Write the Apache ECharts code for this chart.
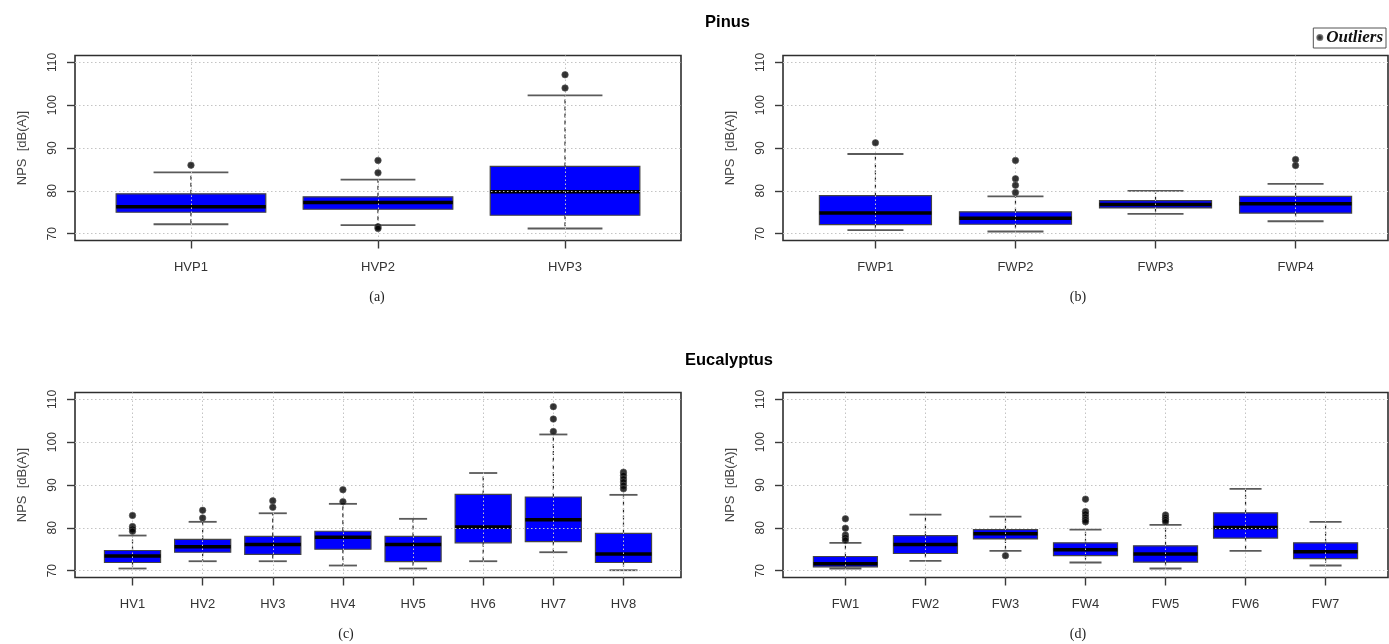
<!DOCTYPE html>
<html>
<head>
<meta charset="utf-8">
<script src="https://cdn.jsdelivr.net/npm/echarts@6/dist/echarts.min.js"></script>
<style>html,body{margin:0;padding:0;background:#fff}#c{width:1389px;height:644px}</style>
</head>
<body>
<div id="c"></div>
<script>
// ---- data: [lower whisker, Q1, median, Q3, upper whisker] ----
const pinusHVCats = ['HVP1', 'HVP2', 'HVP3'];
const pinusHVStats = [
  [72.2, 75.0, 76.3, 79.3, 84.3],
  [72.0, 75.7, 77.3, 78.6, 82.6],
  [71.2, 74.3, 79.8, 85.7, 102.3]
];
const pinusHVOutliers = [[86.0], [87.1, 84.2, 71.6, 71.2], [107.1, 104.0]];

const pinusFWCats = ['FWP1', 'FWP2', 'FWP3', 'FWP4'];
const pinusFWStats = [
  [70.8, 72.1, 74.8, 78.9, 88.6],
  [70.5, 72.2, 73.6, 75.1, 78.7],
  [74.6, 76.0, 76.8, 77.7, 80.0],
  [72.9, 74.8, 77.0, 78.7, 81.6]
];
const pinusFWOutliers = [[91.2], [87.1, 82.8, 81.3, 79.6], [], [87.3, 85.9]];

const eucHVCats = ['HV1', 'HV2', 'HV3', 'HV4', 'HV5', 'HV6', 'HV7', 'HV8'];
const eucHVStats = [
  [70.5, 71.9, 73.4, 74.7, 78.2],
  [72.2, 74.3, 75.6, 77.3, 81.4],
  [72.2, 73.8, 76.1, 78.0, 83.4],
  [71.2, 75.0, 77.8, 79.2, 85.6],
  [70.5, 72.1, 76.1, 78.0, 82.1],
  [72.2, 76.5, 80.2, 87.8, 92.8],
  [74.3, 76.8, 81.9, 87.2, 101.8],
  [70.1, 71.9, 73.9, 78.7, 87.7]
];
const eucHVOutliers = [
  [82.9, 80.3, 79.7, 79.2], [84.1, 82.3], [86.3, 84.8], [88.9, 86.1], [], [],
  [108.3, 105.4, 102.5], [93.0, 92.2, 91.4, 90.7, 89.9, 89.1]
];

const eucFWCats = ['FW1', 'FW2', 'FW3', 'FW4', 'FW5', 'FW6', 'FW7'];
const eucFWStats = [
  [70.5, 70.9, 71.6, 73.3, 76.5],
  [72.3, 74.0, 76.1, 78.2, 83.1],
  [74.6, 77.4, 78.6, 79.6, 82.6],
  [71.9, 73.5, 74.9, 76.5, 79.6],
  [70.5, 72.0, 73.9, 75.8, 80.7],
  [74.6, 77.6, 80.1, 83.5, 89.1],
  [71.2, 72.8, 74.4, 76.5, 81.4]
];
const eucFWOutliers = [
  [82.1, 79.9, 78.3, 77.7, 77.1], [], [73.5], [86.7, 83.8, 83.2, 82.5, 81.9, 81.4],
  [83.0, 82.4, 81.9, 81.4], [], []
];

const yTicks = [70, 80, 90, 100, 110];
const yLimits = [70, 110];
const yAxisName = 'NPS  [dB(A)]';

// ---- layout ----
const panels = [
  { cats: pinusHVCats, stats: pinusHVStats, out: pinusHVOutliers, left: 75, top: 55.5, width: 606 },
  { cats: pinusFWCats, stats: pinusFWStats, out: pinusFWOutliers, left: 783, top: 55.5, width: 605 },
  { cats: eucHVCats, stats: eucHVStats, out: eucHVOutliers, left: 75, top: 392.5, width: 606 },
  { cats: eucFWCats, stats: eucFWStats, out: eucFWOutliers, left: 783, top: 392.5, width: 605 }
];
const plotH = 185;
const SANS = 'Liberation Sans, Arial, sans-serif';
const SERIF = 'Liberation Serif, Times New Roman, serif';
const gridLine = { show: true, lineStyle: { color: '#c4c4c4', width: 1, type: [1.5, 2.5] } };

const yPad = (yLimits[1] - yLimits[0]) * 0.04;

const grids = [], xAxes = [], yAxes = [], series = [];

function renderBox(params, api) {
  const x = api.value(0);
  const lo = api.value(1), q1 = api.value(2), med = api.value(3), q3 = api.value(4), hi = api.value(5);
  const bw = 0.4, cw = 0.2;
  const bTL = api.coord([x - bw, q3]);
  const bBR = api.coord([x + bw, q1]);
  const cHiL = api.coord([x - cw, hi]), cHiR = api.coord([x + cw, hi]);
  const cLoL = api.coord([x - cw, lo]), cLoR = api.coord([x + cw, lo]);
  const mL = api.coord([x - bw, med]), mR = api.coord([x + bw, med]);
  const pQ3 = api.coord([x, q3]), pQ1 = api.coord([x, q1]);
  const pHi = api.coord([x, hi]), pLo = api.coord([x, lo]);
  const whisk = { stroke: '#222', lineWidth: 1.2, lineDash: [4, 3] };
  const cap = { stroke: '#5a5a5a', lineWidth: 1.8 };
  return {
    type: 'group',
    children: [
      { type: 'line', shape: { x1: pQ3[0], y1: pQ3[1], x2: pHi[0], y2: pHi[1] }, style: whisk },
      { type: 'line', shape: { x1: pQ1[0], y1: pQ1[1], x2: pLo[0], y2: pLo[1] }, style: whisk },
      { type: 'line', shape: { x1: cHiL[0], y1: cHiL[1], x2: cHiR[0], y2: cHiR[1] }, style: cap },
      { type: 'line', shape: { x1: cLoL[0], y1: cLoL[1], x2: cLoR[0], y2: cLoR[1] }, style: cap },
      { type: 'rect', shape: { x: bTL[0], y: bTL[1], width: bBR[0] - bTL[0], height: bBR[1] - bTL[1] },
        style: { fill: '#0000ff', stroke: '#444', lineWidth: 1.2 } },
      { type: 'line', shape: { x1: mL[0], y1: mL[1], x2: mR[0], y2: mR[1] }, style: { stroke: '#000', lineWidth: 3.5 } }
    ]
  };
}

panels.forEach((p, i) => {
  const n = p.cats.length;
  const xPad = n * 0.04;
  const catPos = p.cats.map((_, k) => k + 1);
  grids.push({ left: p.left, top: p.top, width: p.width, height: plotH, show: true,
    borderColor: '#2e2e2e', borderWidth: 1.6, backgroundColor: 'transparent' });
  xAxes.push({
    gridIndex: i, type: 'value', min: 0.5 - xPad, max: n + 0.5 + xPad, z: 3,
    axisLine: { show: false, onZero: false },
    axisTick: { show: true, length: 8, lineStyle: { color: '#3a3a3a', width: 1.4 }, customValues: catPos },
    axisLabel: { customValues: catPos, margin: 20, color: '#333', fontFamily: SANS, fontSize: 13,
      formatter: v => p.cats[Math.round(v) - 1] || '' },
    splitLine: gridLine
  });
  yAxes.push({
    gridIndex: i, type: 'value', min: yLimits[0] - yPad, max: yLimits[1] + yPad, z: 3,
    axisLine: { show: false, onZero: false },
    axisTick: { show: true, length: 8, lineStyle: { color: '#3a3a3a', width: 1.4 }, customValues: yTicks },
    axisLabel: { customValues: yTicks, rotate: 90, margin: 16, color: '#333', fontFamily: SANS, fontSize: 12 },
    splitLine: gridLine,
    name: yAxisName, nameLocation: 'middle', nameGap: 46,
    nameTextStyle: { color: '#444', fontFamily: SANS, fontSize: 13 }
  });
  series.push({
    type: 'custom', xAxisIndex: i, yAxisIndex: i, z: 2, clip: false,
    renderItem: renderBox,
    data: p.stats.map((s, k) => [k + 1, s[0], s[1], s[2], s[3], s[4]]),
    silent: true
  });
  const pts = [];
  p.out.forEach((arr, k) => arr.forEach(v => pts.push([k + 1, v])));
  series.push({
    type: 'scatter', name: 'Outliers', xAxisIndex: i, yAxisIndex: i, z: 4,
    symbol: 'circle', symbolSize: 6.5,
    itemStyle: { color: '#000', borderColor: '#555', borderWidth: 0.8 },
    data: pts, silent: true
  });
});

const texts = [
  { t: 'Pinus', x: 727.5, y: 22, font: 'bold 16.5px ' + SANS, c: '#000' },
  { t: 'Eucalyptus', x: 729, y: 360, font: 'bold 16.5px ' + SANS, c: '#000' },
  { t: '(a)', x: 377, y: 297, font: '14px ' + SERIF, c: '#222' },
  { t: '(b)', x: 1078, y: 297, font: '14px ' + SERIF, c: '#222' },
  { t: '(c)', x: 346, y: 634, font: '14px ' + SERIF, c: '#222' },
  { t: '(d)', x: 1078, y: 634, font: '14px ' + SERIF, c: '#222' }
];

const chart = echarts.init(document.getElementById('c'), null, { renderer: 'canvas' });
chart.setOption({
  animation: false,
  backgroundColor: '#fff',
  grid: grids, xAxis: xAxes, yAxis: yAxes, series: series,
  legend: {
    data: [{ name: 'Outliers', icon: 'circle' }],
    right: 3, top: 28, orient: 'horizontal',
    itemWidth: 5, itemHeight: 5, itemGap: 4,
    padding: [1, 3, 2, 3],
    borderColor: '#555', borderWidth: 1,
    selectedMode: false,
    textStyle: { fontFamily: SERIF, fontStyle: 'italic', fontWeight: 'bold', fontSize: 17, color: '#111', padding: [0, 0, 0, -1] }
  },
  graphic: texts.map(o => ({
    type: 'text', x: o.x, y: o.y, silent: true,
    style: { text: o.t, font: o.font, fill: o.c, align: 'center', verticalAlign: 'middle' }
  }))
});
</script>
</body>
</html>
